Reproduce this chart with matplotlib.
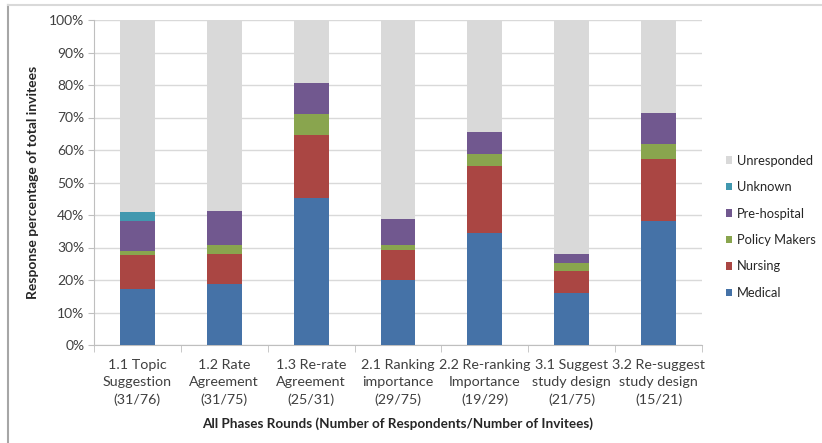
import matplotlib
matplotlib.use("Agg")
import matplotlib.pyplot as plt
from matplotlib.lines import Line2D
from matplotlib.patches import Patch
from matplotlib.ticker import FuncFormatter, FixedLocator
import numpy as np

plt.rcParams['font.family'] = ['Lato', 'DejaVu Sans']

# Survey rounds and respondent counts per group
rounds = [
    "1.1 Topic\nSuggestion\n(31/76)",
    "1.2 Rate\nAgreement\n(31/75)",
    "1.3 Re-rate\nAgreement\n(25/31)",
    "2.1 Ranking\nimportance\n(29/75)",
    "2.2 Re-ranking\nImportance\n(19/29)",
    "3.1 Suggest\nstudy design\n(21/75)",
    "3.2 Re-suggest\nstudy design\n(15/21)",
]
invitees = np.array([76, 75, 31, 75, 29, 75, 21])
medical = np.array([13, 14, 14, 15, 10, 12, 8])
nursing = np.array([8, 7, 6, 7, 6, 5, 4])
policy_makers = np.array([1, 2, 2, 1, 1, 2, 1])
pre_hospital = np.array([7, 8, 3, 6, 2, 2, 2])
unknown = np.array([2, 0, 0, 0, 0, 0, 0])

responded = medical + nursing + policy_makers + pre_hospital + unknown
unresponded = invitees - responded

series = [
    ("Medical", medical, "#4572A7"),
    ("Nursing", nursing, "#AA4643"),
    ("Policy Makers", policy_makers, "#89A54E"),
    ("Pre-hospital", pre_hospital, "#71588F"),
    ("Unknown", unknown, "#4198AF"),
    ("Unresponded", unresponded, "#D9D9D9"),
]

W, H = 822, 443
fig = plt.figure(figsize=(W / 100, H / 100), dpi=100)
ax = fig.add_axes([94 / W, (H - 345) / H, 608 / W, 325 / H])

x = np.arange(len(rounds))
bottom = np.zeros(len(rounds))
handles = []
for name, counts, color in series:
    pct = counts / invitees * 100
    ax.bar(x, pct, width=0.4, bottom=bottom, color=color, zorder=3,
           linewidth=0)
    bottom += pct
    handles.append(Patch(facecolor=color, edgecolor="none", label=name))

ax.set_xlim(-0.5, len(rounds) - 0.5)
ax.set_ylim(0, 100)

# Axes styling
axis_grey = "#BFBFBF"
for side in ("top", "right"):
    ax.spines[side].set_visible(False)
ax.spines["left"].set_color(axis_grey)
ax.spines["bottom"].set_color(axis_grey)
ax.yaxis.grid(True, color="#D9D9D9", linewidth=1, zorder=0)
ax.set_axisbelow(True)

ax.set_yticks(np.arange(0, 101, 10))
ax.yaxis.set_major_formatter(FuncFormatter(lambda v, p: f"{int(v)}%"))
ax.tick_params(axis="y", length=4, color=axis_grey, labelsize=10,
               labelcolor="#404040", pad=3)

ax.set_xticks(x)
ax.set_xticklabels(rounds, linespacing=1.5)
ax.tick_params(axis="x", which="major", length=0, labelsize=10.3,
               labelcolor="#404040", pad=10)
ax.xaxis.set_minor_locator(FixedLocator(np.arange(-0.5, len(rounds), 1.0)))
ax.tick_params(axis="x", which="minor", length=5, color=axis_grey)

ax.set_ylabel("Response percentage of total invitees", fontsize=10,
              fontweight="bold", color="#262626", labelpad=7)
ax.set_xlabel("All Phases Rounds (Number of Respondents/Number of Invitees)",
              fontsize=9.7, fontweight="bold", color="#262626", labelpad=8)

leg = fig.legend(handles=handles[::-1], loc="upper left",
                 bbox_to_anchor=(714 / W, 1 - 143 / H), frameon=False,
                 fontsize=9.3, handlelength=0.5, handleheight=0.5,
                 handletextpad=0.35, labelspacing=1.12)
for t in leg.get_texts():
    t.set_color("#262626")

# Outer frame lines
fig.add_artist(Line2D([8 / W, 8 / W], [0, 1 - 5 / H], color="#A6A6A6",
                      linewidth=1.5, transform=fig.transFigure))
fig.add_artist(Line2D([8 / W, 1], [1 - 5 / H, 1 - 5 / H], color="#D9D9D9",
                      linewidth=1.5, transform=fig.transFigure))

fig.savefig("out.png", dpi=100)
